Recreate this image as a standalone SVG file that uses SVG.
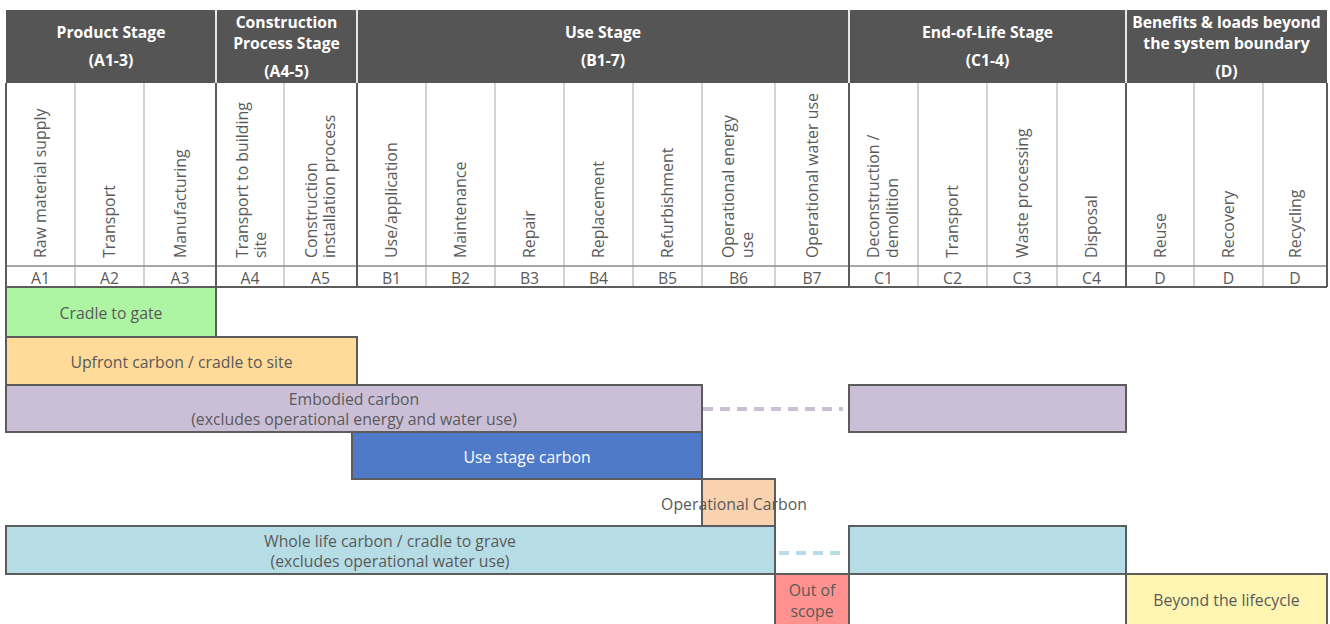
<svg xmlns="http://www.w3.org/2000/svg" width="1330" height="624" viewBox="0 0 1330 624">
<style>
.hd{font-family:"Open Sans","Liberation Sans",sans-serif;font-weight:bold;font-size:15.7px;fill:#ffffff;text-anchor:middle}
.lb{font-family:"Open Sans","Liberation Sans",sans-serif;font-size:15.9px;fill:#5a5a5a}
.cd{font-family:"Open Sans","Liberation Sans",sans-serif;font-size:15.8px;fill:#5a5a5a;text-anchor:middle}
.bt{font-family:"Open Sans","Liberation Sans",sans-serif;font-size:15.8px;fill:#5a5a5a;text-anchor:middle}
.bar{stroke:#5c5c5c;stroke-width:2}
.thin{stroke:#c4c4c4;stroke-width:1.5}
.thick{stroke:#5c5c5c;stroke-width:2}
</style>
<rect width="1330" height="624" fill="#ffffff"/>
<g id="header">
<rect x="6" y="10" width="1321" height="73" fill="#555555"/>
<g stroke="#e6e6e6" stroke-width="2">
<line x1="216" y1="10" x2="216" y2="83"/>
<line x1="357" y1="10" x2="357" y2="83"/>
<line x1="849" y1="10" x2="849" y2="83"/>
<line x1="1126" y1="10" x2="1126" y2="83"/>
</g>
<text class="hd" x="111" y="38">Product Stage</text>
<text class="hd" x="111" y="66">(A1-3)</text>
<text class="hd" x="286.5" y="28">Construction</text>
<text class="hd" x="286.5" y="49">Process Stage</text>
<text class="hd" x="286.5" y="77">(A4-5)</text>
<text class="hd" x="603" y="38">Use Stage</text>
<text class="hd" x="603" y="66">(B1-7)</text>
<text class="hd" x="987.5" y="38">End-of-Life Stage</text>
<text class="hd" x="987.5" y="66">(C1-4)</text>
<text class="hd" x="1226.5" y="28">Benefits &amp; loads beyond</text>
<text class="hd" x="1226.5" y="49">the system boundary</text>
<text class="hd" x="1226.5" y="77">(D)</text>
</g>
<g id="columns">
<g class="thin">
<line x1="75" y1="83" x2="75" y2="287"/>
<line x1="144" y1="83" x2="144" y2="287"/>
<line x1="284" y1="83" x2="284" y2="287"/>
<line x1="426" y1="83" x2="426" y2="287"/>
<line x1="495" y1="83" x2="495" y2="287"/>
<line x1="564" y1="83" x2="564" y2="287"/>
<line x1="633" y1="83" x2="633" y2="287"/>
<line x1="702" y1="83" x2="702" y2="287"/>
<line x1="775" y1="83" x2="775" y2="287"/>
<line x1="918" y1="83" x2="918" y2="287"/>
<line x1="987" y1="83" x2="987" y2="287"/>
<line x1="1057" y1="83" x2="1057" y2="287"/>
<line x1="1194" y1="83" x2="1194" y2="287"/>
<line x1="1263" y1="83" x2="1263" y2="287"/>
</g>
<line x1="6" y1="266" x2="1327" y2="266" stroke="#8a8a8a" stroke-width="1.5"/>
<g class="thick">
<line x1="6" y1="83" x2="6" y2="287"/>
<line x1="216" y1="83" x2="216" y2="287"/>
<line x1="357" y1="83" x2="357" y2="287"/>
<line x1="849" y1="83" x2="849" y2="287"/>
<line x1="1126" y1="83" x2="1126" y2="287"/>
<line x1="1327" y1="83" x2="1327" y2="287"/>
<line x1="6" y1="287" x2="1327" y2="287"/>
</g>
<text class="lb" transform="translate(46,258) rotate(-90)">Raw material supply</text>
<text class="lb" transform="translate(115,258) rotate(-90)">Transport</text>
<text class="lb" transform="translate(186,258) rotate(-90)">Manufacturing</text>
<text class="lb" transform="translate(248,258) rotate(-90)">Transport to building</text>
<text class="lb" transform="translate(266,258) rotate(-90)">site</text>
<text class="lb" transform="translate(317,258) rotate(-90)">Construction</text>
<text class="lb" transform="translate(335,258) rotate(-90)">installation process</text>
<text class="lb" transform="translate(397,258) rotate(-90)">Use/application</text>
<text class="lb" transform="translate(466,258) rotate(-90)">Maintenance</text>
<text class="lb" transform="translate(535,258) rotate(-90)">Repair</text>
<text class="lb" transform="translate(604,258) rotate(-90)">Replacement</text>
<text class="lb" transform="translate(673,258) rotate(-90)">Refurbishment</text>
<text class="lb" transform="translate(734,258) rotate(-90)">Operational energy</text>
<text class="lb" transform="translate(753,258) rotate(-90)">use</text>
<text class="lb" transform="translate(818,258) rotate(-90)">Operational water use</text>
<text class="lb" transform="translate(879,258) rotate(-90)">Deconstruction /</text>
<text class="lb" transform="translate(898,258) rotate(-90)">demolition</text>
<text class="lb" transform="translate(958,258) rotate(-90)">Transport</text>
<text class="lb" transform="translate(1028,258) rotate(-90)">Waste processing</text>
<text class="lb" transform="translate(1097,258) rotate(-90)">Disposal</text>
<text class="lb" transform="translate(1166,258) rotate(-90)">Reuse</text>
<text class="lb" transform="translate(1234,258) rotate(-90)">Recovery</text>
<text class="lb" transform="translate(1301,258) rotate(-90)">Recycling</text>
<text class="cd" x="40.5" y="284">A1</text>
<text class="cd" x="109.5" y="284">A2</text>
<text class="cd" x="180" y="284">A3</text>
<text class="cd" x="250" y="284">A4</text>
<text class="cd" x="320.5" y="284">A5</text>
<text class="cd" x="391.5" y="284">B1</text>
<text class="cd" x="460.5" y="284">B2</text>
<text class="cd" x="529.5" y="284">B3</text>
<text class="cd" x="598.5" y="284">B4</text>
<text class="cd" x="667.5" y="284">B5</text>
<text class="cd" x="738.5" y="284">B6</text>
<text class="cd" x="812" y="284">B7</text>
<text class="cd" x="883.5" y="284">C1</text>
<text class="cd" x="952.5" y="284">C2</text>
<text class="cd" x="1022" y="284">C3</text>
<text class="cd" x="1091.5" y="284">C4</text>
<text class="cd" x="1160" y="284">D</text>
<text class="cd" x="1228.5" y="284">D</text>
<text class="cd" x="1295" y="284">D</text>
</g>
<g id="connectors">
<line x1="703" y1="409" x2="843" y2="409" stroke="#cbbfd8" stroke-width="4" stroke-dasharray="10,7"/>
<line x1="779" y1="553" x2="843" y2="553" stroke="#b6dde6" stroke-width="4" stroke-dasharray="10,7"/>
</g>
<g id="cradle-to-gate">
<rect class="bar" x="6" y="287" width="210" height="50" fill="#adf5a3"/>
<text class="bt" x="111" y="319">Cradle to gate</text>
</g>
<g id="upfront-carbon">
<rect class="bar" x="6" y="337" width="351" height="48" fill="#ffda98"/>
<text class="bt" x="181.5" y="368">Upfront carbon / cradle to site</text>
</g>
<g id="embodied-carbon">
<rect class="bar" x="6" y="385" width="696" height="47" fill="#cbbfd8"/>
<rect class="bar" x="849" y="385" width="277" height="47" fill="#cbbfd8"/>
<text class="bt" x="354" y="405">Embodied carbon</text>
<text class="bt" x="354" y="425">(excludes operational energy and water use)</text>
</g>
<g id="use-stage-carbon">
<rect class="bar" x="352" y="432" width="350" height="47" fill="#4e7ac7"/>
<text class="bt" x="527" y="463" style="fill:#ffffff">Use stage carbon</text>
</g>
<g id="operational-carbon">
<rect x="702" y="479" width="73" height="47" fill="#f9d3b0"/>
<text class="bt" x="734" y="510">Operational Carbon</text>
<rect class="bar" x="702" y="479" width="73" height="47" fill="none"/>
</g>
<g id="whole-life-carbon">
<rect class="bar" x="6" y="526" width="769" height="48" fill="#b6dde6"/>
<rect class="bar" x="849" y="526" width="277" height="48" fill="#b6dde6"/>
<text class="bt" x="390" y="547">Whole life carbon / cradle to grave</text>
<text class="bt" x="390" y="567">(excludes operational water use)</text>
</g>
<g id="out-of-scope">
<rect class="bar" x="775" y="574" width="74" height="56" fill="#ff928e"/>
<text class="bt" x="812" y="596">Out of</text>
<text class="bt" x="812" y="617">scope</text>
</g>
<g id="beyond-lifecycle">
<rect class="bar" x="1126" y="574" width="201" height="56" fill="#fff5b3"/>
<text class="bt" x="1226.5" y="606">Beyond the lifecycle</text>
</g>
</svg>
